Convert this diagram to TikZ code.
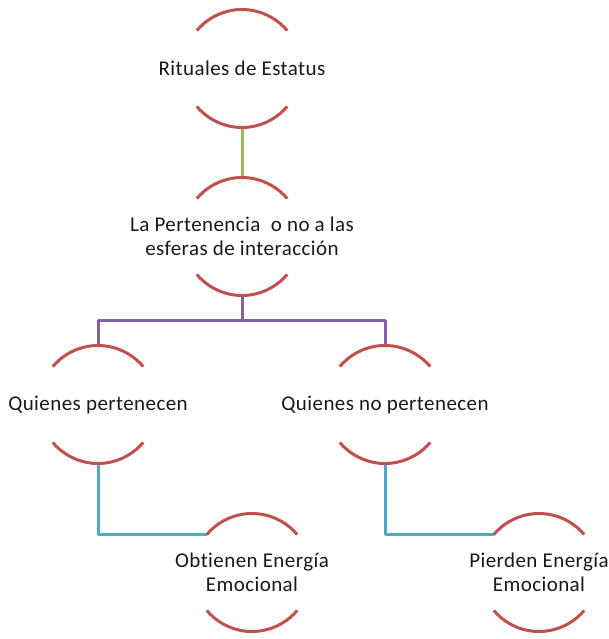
\documentclass[tikz,border=0pt]{standalone}
\usepackage{fontspec}
\setmainfont{Carlito}[LetterSpace=2, Ligatures={NoCommon}]
\definecolor{arcred}{HTML}{C0504D}
\definecolor{lgreen}{HTML}{9BBB59}
\definecolor{lpurple}{HTML}{8064A2}
\definecolor{lblue}{HTML}{4BACC6}
\begin{document}
\begin{tikzpicture}[x=1pt,y=1pt,
  ring/.style={circle, minimum size=118pt, inner sep=0pt, outer sep=0pt, draw=none},
  lbl/.style={inner sep=0pt, align=center, font=\fontsize{21}{23.5}\selectfont, text=black!90},
  arcline/.style={draw=arcred, line width=3pt},
  conn/.style={line width=3pt}]
\useasboundingbox (0,0) rectangle (609,-639);
\node[ring, label={[lbl]center:Rituales de Estatus}] (n1) at (242,-68.5) {};
\node[ring, label={[lbl]center:La Pertenencia\ \ o no a las\\esferas de interacción}] (n2) at (242,-236.5) {};
\node[ring, label={[lbl]center:Quienes pertenecen}] (n3) at (98,-404.5) {};
\node[ring, label={[lbl]center:Quienes no pertenecen}] (n4) at (385,-404.5) {};
\node[ring, label={[lbl]center:Obtienen Energía\\Emocional}] (n5) at (252,-572.5) {};
\node[ring, label={[lbl]center:Pierden Energía\\Emocional}] (n6) at (539,-572.5) {};
\coordinate (bus) at (242,-320.5);
\draw[conn, lgreen] (n1.south) -- (n2.north);
\draw[conn, lpurple] (n2.south) -- (bus);
\draw[conn, lpurple, line join=round] (n3.north) |- (bus) -| (n4.north);
\draw[conn, lblue, line join=round] (n3.south) |- (n5.140);
\draw[conn, lblue, line join=round] (n4.south) |- (n6.140);
\foreach \n in {n1,n2,n3,n4,n5,n6}{
  \draw[arcline] (\n.140) arc[start angle=140, end angle=40, radius=59pt];
  \draw[arcline] (\n.220) arc[start angle=220, end angle=320, radius=59pt];
}
\end{tikzpicture}
\end{document}
